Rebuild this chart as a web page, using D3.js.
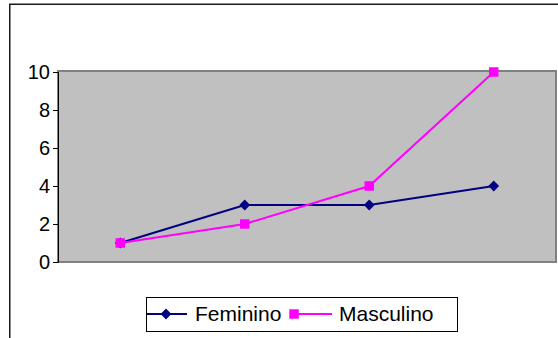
<!DOCTYPE html>
<html>
<head>
<meta charset="utf-8">
<script src="https://cdn.jsdelivr.net/npm/d3@7"></script>
<style>
  html, body { margin: 0; padding: 0; background: #fff; }
  svg { display: block; }
  text { font-family: "Liberation Sans", Arial, sans-serif; fill: #000; }
</style>
</head>
<body>
<svg id="chart" width="558" height="338"></svg>
<script>
// Chart data
const categories = ["1", "2", "3", "4"];
const feminino = [1, 3, 3, 4];
const masculino = [1, 2, 4, 10];
const yTicks = [0, 2, 4, 6, 8, 10];
const seriesNames = ["Feminino", "Masculino"];

const svg = d3.select("#chart");
const W = 558, H = 338;

// Outer chart frame (extends past the right/bottom edge)
svg.append("rect")
  .attr("x", 9.75).attr("y", 4.25)
  .attr("width", W + 10).attr("height", H + 10)
  .attr("fill", "#fff").attr("stroke", "#1a1a1a").attr("stroke-width", 1.5);

const plot = { left: 58, right: 556, top: 71, bottom: 262 };

const x = d3.scaleBand().domain(categories).range([plot.left, plot.right]);
const y = d3.scaleLinear().domain([0, 10]).range([plot.bottom, plot.top + 1]);

// Plot area
svg.append("rect")
  .attr("x", plot.left).attr("y", plot.top)
  .attr("width", plot.right - plot.left).attr("height", plot.bottom - plot.top)
  .attr("fill", "#c0c0c0").attr("stroke", "#808080").attr("stroke-width", 2);

// Y axis
const yAxis = d3.axisLeft(y).tickValues(yTicks).tickSize(5).tickPadding(3);
const ya = svg.append("g").attr("transform", `translate(${plot.left},0)`).call(yAxis);
ya.select(".domain").attr("stroke", "#000").attr("stroke-width", 1);
ya.selectAll(".tick line").attr("stroke", "#000");
ya.selectAll(".tick text")
  .attr("font-size", 20)
  .attr("font-family", "Liberation Sans, Arial, sans-serif")
  .attr("fill", "#000");

const cx = c => x(c) + x.bandwidth() / 2;
const line = d3.line().x((d, i) => cx(categories[i])).y(d => y(d));

const FEM = "#000080", MAS = "#ff00ff";

svg.append("path").datum(feminino).attr("d", line)
  .attr("fill", "none").attr("stroke", FEM).attr("stroke-width", 2);
svg.append("path").datum(masculino).attr("d", line)
  .attr("fill", "none").attr("stroke", MAS).attr("stroke-width", 2);

// Diamond = square turned 45 degrees
const diamond = d3.symbol().type(d3.symbolSquare).size(58);
const square = d3.symbol().type(d3.symbolSquare).size(90);

svg.append("g").selectAll("path").data(feminino).join("path")
  .attr("transform", (d, i) => `translate(${cx(categories[i])},${y(d)}) rotate(45)`)
  .attr("d", diamond)
  .attr("fill", FEM);
svg.append("g").selectAll("path").data(masculino).join("path")
  .attr("transform", (d, i) => `translate(${cx(categories[i])},${y(d)})`)
  .attr("d", square)
  .attr("fill", MAS);

// Legend
const lg = svg.append("g");
lg.append("rect")
  .attr("x", 146.5).attr("y", 297.5).attr("width", 311).attr("height", 34)
  .attr("fill", "#fff").attr("stroke", "#000").attr("stroke-width", 1);
const ly = 314;
lg.append("line").attr("x1", 147).attr("x2", 187).attr("y1", ly).attr("y2", ly)
  .attr("stroke", FEM).attr("stroke-width", 2);
lg.append("path").attr("transform", `translate(166,${ly}) rotate(45)`)
  .attr("d", diamond).attr("fill", FEM);
lg.append("text").attr("x", 195).attr("y", ly).attr("dy", "0.35em")
  .attr("font-size", 21).text(seriesNames[0]);
lg.append("line").attr("x1", 293).attr("x2", 332).attr("y1", ly).attr("y2", ly)
  .attr("stroke", MAS).attr("stroke-width", 2);
lg.append("path").attr("transform", `translate(294,${ly})`)
  .attr("d", square).attr("fill", MAS);
lg.append("text").attr("x", 339).attr("y", ly).attr("dy", "0.35em")
  .attr("font-size", 21).text(seriesNames[1]);
</script>
</body>
</html>
